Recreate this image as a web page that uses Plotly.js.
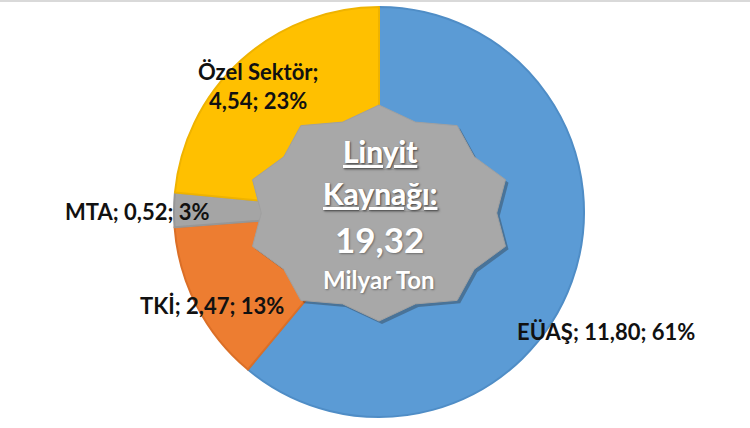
<!DOCTYPE html>
<html>
<head>
<meta charset="utf-8">
<script src="https://cdn.plot.ly/plotly-3.0.1.min.js"></script>
<style>html,body{margin:0;padding:0;background:#fff;}#chart{width:750px;height:428px;}</style>
</head>
<body>
<div id="chart"></div>
<script>
// ---- data ----
const labels = ['EÜAŞ', 'TKİ', 'MTA', 'Özel Sektör'];
const values = [11.80, 2.47, 0.52, 4.54];
const percents = [61, 13, 3, 23];
const totalValue = 19.32;
const centerTitle = ['Linyit', 'Kaynağı:'];
const centerUnit = 'Milyar Ton';
const sliceColors = ['#5B9BD5', '#ED7D31', '#A5A5A5', '#FFC000'];
const sliceEdges = ['#4F8DC6', '#DB6F27', '#979797', '#EFB300'];

// ---- layout helpers ----
const W = 750, H = 428;
const px = x => x / W;
const py = y => 1 - y / H;
const fmt = v => v.toFixed(2).replace('.', ',');

const pieCx = 379, pieCy = 212, pieR = 205;
// label anchor positions (pixels) in label order
const labelPos = [[606, 331], [212, 305], [137, 212], [258, 86]];
const labelBreak = [false, false, false, true];

function starPath(cx, cy, rx, ry, n, ri) {
  let d = '';
  for (let k = 0; k < 2 * n; k++) {
    const a = (90 - k * 180 / n) * Math.PI / 180;
    const r = (k % 2 === 0) ? 1 : ri;
    const x = cx + r * rx * Math.cos(a);
    const y = cy - r * ry * Math.sin(a);
    d += (k === 0 ? 'M' : 'L') + px(x).toFixed(5) + ',' + py(y).toFixed(5);
  }
  return d + 'Z';
}

const trace = {
  type: 'pie',
  labels: labels,
  values: values,
  sort: false,
  direction: 'clockwise',
  rotation: 0,
  textinfo: 'none',
  hoverinfo: 'label+value+percent',
  marker: { colors: sliceColors, line: { color: sliceEdges, width: 2 } },
  domain: { x: [px(pieCx - pieR), px(pieCx + pieR)], y: [py(pieCy + pieR), py(pieCy - pieR)] },
  showlegend: false
};

const annotations = labels.map((lab, i) => ({
  xref: 'paper', yref: 'paper',
  x: px(labelPos[i][0]), y: py(labelPos[i][1]),
  xanchor: 'center', yanchor: 'middle',
  text: '<b>' + lab + ';' + (labelBreak[i] ? '<br>' : ' ') + fmt(values[i]) + '; ' + percents[i] + '%</b>',
  showarrow: false,
  font: { family: 'Lato, "Open Sans", sans-serif', size: 22, color: '#111', weight: 900 }
}));

const white = s => ({ family: 'Lato, "Open Sans", sans-serif', size: s, color: '#ffffff', weight: 900,
  shadow: '1px 1px 2px rgba(0,0,0,0.35)' });
annotations.push(
  { xref: 'paper', yref: 'paper', x: px(380), y: py(151), xanchor: 'center', yanchor: 'middle',
    text: '<b><u>' + centerTitle[0] + '</u></b>', showarrow: false, font: white(30) },
  { xref: 'paper', yref: 'paper', x: px(380), y: py(193), xanchor: 'center', yanchor: 'middle',
    text: '<b><u>' + centerTitle[1] + '</u></b>', showarrow: false, font: white(30) },
  { xref: 'paper', yref: 'paper', x: px(379), y: py(239), xanchor: 'center', yanchor: 'middle',
    text: '<b>' + fmt(totalValue) + '</b>', showarrow: false, font: white(35) },
  { xref: 'paper', yref: 'paper', x: px(379), y: py(279), xanchor: 'center', yanchor: 'middle',
    text: '<b>' + centerUnit + '</b>', showarrow: false, font: white(24) }
);

const shapes = [
  { type: 'path', xref: 'paper', yref: 'paper', layer: 'above',
    path: starPath(382, 216, 133, 108, 10, 0.885),
    fillcolor: 'rgba(40,40,40,0.35)', line: { width: 0 } },
  { type: 'path', xref: 'paper', yref: 'paper', layer: 'above',
    path: starPath(379, 213, 133, 108, 10, 0.885),
    fillcolor: '#A8A8A8', line: { color: '#A0A0A0', width: 1 } },
  { type: 'line', xref: 'paper', yref: 'paper', layer: 'above',
    x0: 0, x1: 1, y0: py(1), y1: py(1), line: { color: '#D9D9D9', width: 2 } }
];

const layout = {
  width: W, height: H,
  margin: { l: 0, r: 0, t: 0, b: 0 },
  paper_bgcolor: '#ffffff',
  showlegend: false,
  annotations: annotations,
  shapes: shapes
};

Plotly.newPlot('chart', [trace], layout, { displayModeBar: false, staticPlot: true });
</script>
</body>
</html>
